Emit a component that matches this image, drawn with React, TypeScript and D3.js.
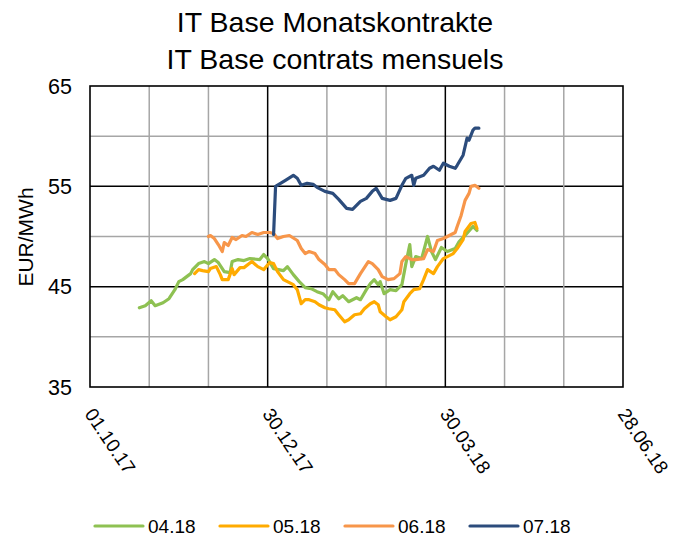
import React from "react";
import * as d3 from "d3";

const W = 673;
const H = 537;

const titleLines = ["IT Base Monatskontrakte", "IT Base contrats mensuels"];
const yAxisTitle = "EUR/MWh";
const xTickLabels = ["01.10.17", "30.12.17", "30.03.18", "28.06.18"];
const yTickLabels = [35, 45, 55, 65];
const yGridValues = [40, 45, 50, 55, 60];
const seriesNames = ["04.18", "05.18", "06.18", "07.18"];
const seriesColors = ["#8EC152", "#FFAB00", "#F7964A", "#2C4C7C"];

const s0418: [string, number][] = [
  ["2017-10-26", 42.9], ["2017-10-29", 43.1], ["2017-11-01", 43.6], ["2017-11-03", 43.1],
  ["2017-11-07", 43.4], ["2017-11-10", 43.8], ["2017-11-13", 44.7], ["2017-11-15", 45.5],
  ["2017-11-17", 45.7], ["2017-11-21", 46.3], ["2017-11-22", 46.7], ["2017-11-25", 47.3],
  ["2017-11-28", 47.5], ["2017-11-30", 47.3], ["2017-12-03", 47.7], ["2017-12-05", 47.4],
  ["2017-12-08", 46.5], ["2017-12-11", 46.4], ["2017-12-12", 47.5], ["2017-12-15", 47.7],
  ["2017-12-18", 47.6], ["2017-12-21", 47.8], ["2017-12-26", 47.7], ["2017-12-28", 48.2],
  ["2017-12-30", 47.8], ["2018-01-02", 46.8], ["2018-01-07", 46.6], ["2018-01-09", 47.0],
  ["2018-01-12", 46.2], ["2018-01-15", 45.5], ["2018-01-18", 44.9], ["2018-01-21", 44.8],
  ["2018-01-24", 44.5], ["2018-01-27", 44.3], ["2018-01-30", 43.7], ["2018-02-01", 44.5],
  ["2018-02-04", 43.8], ["2018-02-06", 44.1], ["2018-02-09", 43.5], ["2018-02-13", 43.9],
  ["2018-02-15", 43.7], ["2018-02-18", 44.7], ["2018-02-20", 45.3], ["2018-02-22", 45.7],
  ["2018-02-24", 45.2], ["2018-02-25", 45.5], ["2018-02-27", 44.3], ["2018-03-02", 44.7],
  ["2018-03-05", 44.6], ["2018-03-08", 45.2], ["2018-03-10", 47.3], ["2018-03-12", 49.2],
  ["2018-03-13", 47.0], ["2018-03-15", 48.0], ["2018-03-18", 47.8], ["2018-03-21", 50.0],
  ["2018-03-23", 48.5], ["2018-03-25", 47.7], ["2018-03-28", 48.9], ["2018-03-31", 48.5],
  ["2018-04-04", 48.8], ["2018-04-06", 49.5], ["2018-04-09", 50.1], ["2018-04-13", 51.0],
  ["2018-04-15", 50.6],
];

const s0518: [string, number][] = [
  ["2017-11-23", 46.3], ["2017-11-25", 46.7], ["2017-11-27", 46.6], ["2017-11-30", 46.5],
  ["2017-12-01", 46.8], ["2017-12-04", 47.0], ["2017-12-06", 46.2], ["2017-12-07", 45.7],
  ["2017-12-10", 45.7], ["2017-12-12", 46.8], ["2017-12-13", 46.2], ["2017-12-16", 46.9],
  ["2017-12-18", 46.9], ["2017-12-22", 47.5], ["2017-12-25", 47.0], ["2017-12-28", 46.7],
  ["2017-12-31", 47.4], ["2018-01-02", 47.3], ["2018-01-04", 46.5], ["2018-01-07", 45.7],
  ["2018-01-09", 45.5], ["2018-01-12", 45.2], ["2018-01-14", 44.7], ["2018-01-16", 43.3],
  ["2018-01-18", 43.7], ["2018-01-20", 43.7], ["2018-01-23", 43.5], ["2018-01-25", 43.2],
  ["2018-01-28", 42.9], ["2018-01-30", 42.8], ["2018-02-02", 42.7], ["2018-02-04", 42.2],
  ["2018-02-07", 41.5], ["2018-02-09", 41.7], ["2018-02-12", 42.2], ["2018-02-15", 42.3],
  ["2018-02-17", 42.8], ["2018-02-20", 43.3], ["2018-02-22", 43.5], ["2018-02-24", 43.2],
  ["2018-02-25", 42.5], ["2018-02-28", 42.0], ["2018-03-02", 41.7], ["2018-03-05", 42.0],
  ["2018-03-08", 42.7], ["2018-03-09", 43.5], ["2018-03-12", 44.3], ["2018-03-14", 44.7],
  ["2018-03-17", 44.8], ["2018-03-19", 45.7], ["2018-03-21", 46.7], ["2018-03-24", 46.3],
  ["2018-03-26", 47.0], ["2018-03-29", 47.8], ["2018-03-31", 48.0], ["2018-04-03", 48.3],
  ["2018-04-05", 48.8], ["2018-04-08", 49.7], ["2018-04-09", 50.5], ["2018-04-12", 51.3],
  ["2018-04-14", 51.4], ["2018-04-15", 50.8],
];

const s0618: [string, number][] = [
  ["2017-11-30", 50.0], ["2017-12-01", 50.1], ["2017-12-03", 49.8], ["2017-12-05", 49.2],
  ["2017-12-07", 48.5], ["2017-12-08", 49.4], ["2017-12-10", 49.1], ["2017-12-12", 49.9],
  ["2017-12-14", 49.7], ["2017-12-17", 50.1], ["2017-12-19", 50.0], ["2017-12-22", 50.4],
  ["2017-12-25", 50.2], ["2017-12-28", 50.4], ["2017-12-31", 50.4], ["2018-01-02", 50.3],
  ["2018-01-04", 49.8], ["2018-01-07", 50.0], ["2018-01-10", 50.1], ["2018-01-14", 49.6],
  ["2018-01-16", 48.8], ["2018-01-18", 48.3], ["2018-01-20", 48.5], ["2018-01-23", 48.3],
  ["2018-01-25", 47.7], ["2018-01-28", 47.2], ["2018-01-30", 46.7], ["2018-02-02", 46.7],
  ["2018-02-04", 46.2], ["2018-02-07", 45.7], ["2018-02-09", 45.3], ["2018-02-12", 45.3],
  ["2018-02-15", 46.3], ["2018-02-19", 47.5], ["2018-02-21", 47.3], ["2018-02-24", 46.7],
  ["2018-02-26", 46.0], ["2018-03-01", 45.7], ["2018-03-04", 45.8], ["2018-03-07", 46.3],
  ["2018-03-08", 47.5], ["2018-03-10", 48.0], ["2018-03-13", 47.7], ["2018-03-15", 47.7],
  ["2018-03-19", 47.8], ["2018-03-21", 48.7], ["2018-03-24", 48.5], ["2018-03-26", 49.6],
  ["2018-03-29", 49.8], ["2018-04-01", 50.1], ["2018-04-04", 50.4], ["2018-04-05", 51.0],
  ["2018-04-07", 52.1], ["2018-04-09", 53.6], ["2018-04-11", 54.3], ["2018-04-12", 55.0],
  ["2018-04-14", 55.1], ["2018-04-16", 54.8],
];

const s0718: [string, number][] = [
  ["2018-01-02", 50.2], ["2018-01-03", 55.0], ["2018-01-08", 55.6], ["2018-01-12", 56.1],
  ["2018-01-14", 55.8], ["2018-01-16", 55.1], ["2018-01-19", 55.3], ["2018-01-22", 55.2],
  ["2018-01-24", 54.9], ["2018-01-28", 54.5], ["2018-02-01", 54.3], ["2018-02-04", 53.7],
  ["2018-02-08", 52.8], ["2018-02-11", 52.7], ["2018-02-15", 53.5], ["2018-02-18", 53.8],
  ["2018-02-21", 54.5], ["2018-02-23", 54.8], ["2018-02-26", 53.8], ["2018-03-02", 53.6],
  ["2018-03-05", 53.8], ["2018-03-08", 55.1], ["2018-03-10", 55.8], ["2018-03-13", 56.1],
  ["2018-03-14", 55.1], ["2018-03-15", 55.8], ["2018-03-19", 56.1], ["2018-03-22", 56.8],
  ["2018-03-24", 57.0], ["2018-03-27", 56.6], ["2018-03-29", 57.3], ["2018-04-01", 57.0],
  ["2018-04-04", 56.8], ["2018-04-05", 57.1], ["2018-04-08", 58.1], ["2018-04-10", 59.8],
  ["2018-04-11", 59.6], ["2018-04-13", 60.6], ["2018-04-14", 60.8], ["2018-04-16", 60.8],
];

const allSeries = [s0418, s0518, s0618, s0718];

const parseISO = d3.utcParse("%Y-%m-%d");
const parseTick = d3.utcParse("%d.%m.%y");

export default function App() {
  const plot = { left: 90, right: 623, top: 86, bottom: 387 };
  const tickDates = xTickLabels.map((t) => parseTick(t) as Date);
  const x = d3
    .scaleUtc()
    .domain([tickDates[0], tickDates[tickDates.length - 1]])
    .range([plot.left, plot.right]);
  const y = d3.scaleLinear().domain([35, 65]).range([plot.bottom, plot.top]);

  const totalDays = d3.utcDay.count(tickDates[0], tickDates[tickDates.length - 1]);
  const vGrid = d3.range(30, totalDays, 30).map((d) => ({
    date: d3.utcDay.offset(tickDates[0], d),
    major: d % 90 === 0,
  }));

  const line = d3
    .line<[string, number]>()
    .x((d) => x(parseISO(d[0]) as Date))
    .y((d) => y(d[1]))
    .curve(d3.curveLinear);

  const font = "'Liberation Sans', Arial, sans-serif";
  const legendStart = 95;
  const legendStep = 125;

  return (
    <svg width={W} height={H} style={{ display: "block", position: "absolute", left: 0, top: 0 }} fontFamily={font}>
      <rect x={0} y={0} width={W} height={H} fill="#fff" />
      {titleLines.map((t, i) => (
        <text key={t} x={335} y={32 + i * 37} textAnchor="middle" fontSize={28.5} fill="#000">
          {t}
        </text>
      ))}
      {yGridValues.map((v) => (
        <line
          key={"h" + v}
          x1={plot.left}
          x2={plot.right}
          y1={y(v)}
          y2={y(v)}
          stroke={v % 10 === 5 ? "#000" : "#A6A6A6"}
          strokeWidth={1.5}
        />
      ))}
      {vGrid.map((g, i) => (
        <line
          key={"v" + i}
          x1={x(g.date)}
          x2={x(g.date)}
          y1={plot.top}
          y2={plot.bottom}
          stroke={g.major ? "#000" : "#A6A6A6"}
          strokeWidth={1.5}
        />
      ))}
      <rect
        x={plot.left}
        y={plot.top}
        width={plot.right - plot.left}
        height={plot.bottom - plot.top}
        fill="none"
        stroke="#000"
        strokeWidth={1.6}
      />
      {yTickLabels.map((v) => (
        <text key={"yt" + v} x={72} y={y(v)} dy="0.36em" textAnchor="end" fontSize={21.5} fill="#000">
          {v}
        </text>
      ))}
      <text
        transform={`translate(33, 237) rotate(-90)`}
        textAnchor="middle"
        fontSize={21}
        fill="#000"
      >
        {yAxisTitle}
      </text>
      {xTickLabels.map((t, i) => (
        <text
          key={t}
          transform={`translate(${x(tickDates[i]) - 6}, 414) rotate(56)`}
          fontSize={19}
          fill="#000"
        >
          {t}
        </text>
      ))}
      {allSeries.map((s, i) => (
        <path
          key={seriesNames[i]}
          d={line(s) || ""}
          fill="none"
          stroke={seriesColors[i]}
          strokeWidth={3.2}
          strokeLinejoin="round"
          strokeLinecap="round"
        />
      ))}
      {seriesNames.map((n, i) => (
        <g key={"lg" + n} transform={`translate(${legendStart + i * legendStep}, 526)`}>
          <line x1={0} x2={48} y1={0} y2={0} stroke={seriesColors[i]} strokeWidth={3.2} strokeLinecap="round" />
          <text x={53} y={0} dy="0.35em" fontSize={19} fill="#000">
            {n}
          </text>
        </g>
      ))}
    </svg>
  );
}
